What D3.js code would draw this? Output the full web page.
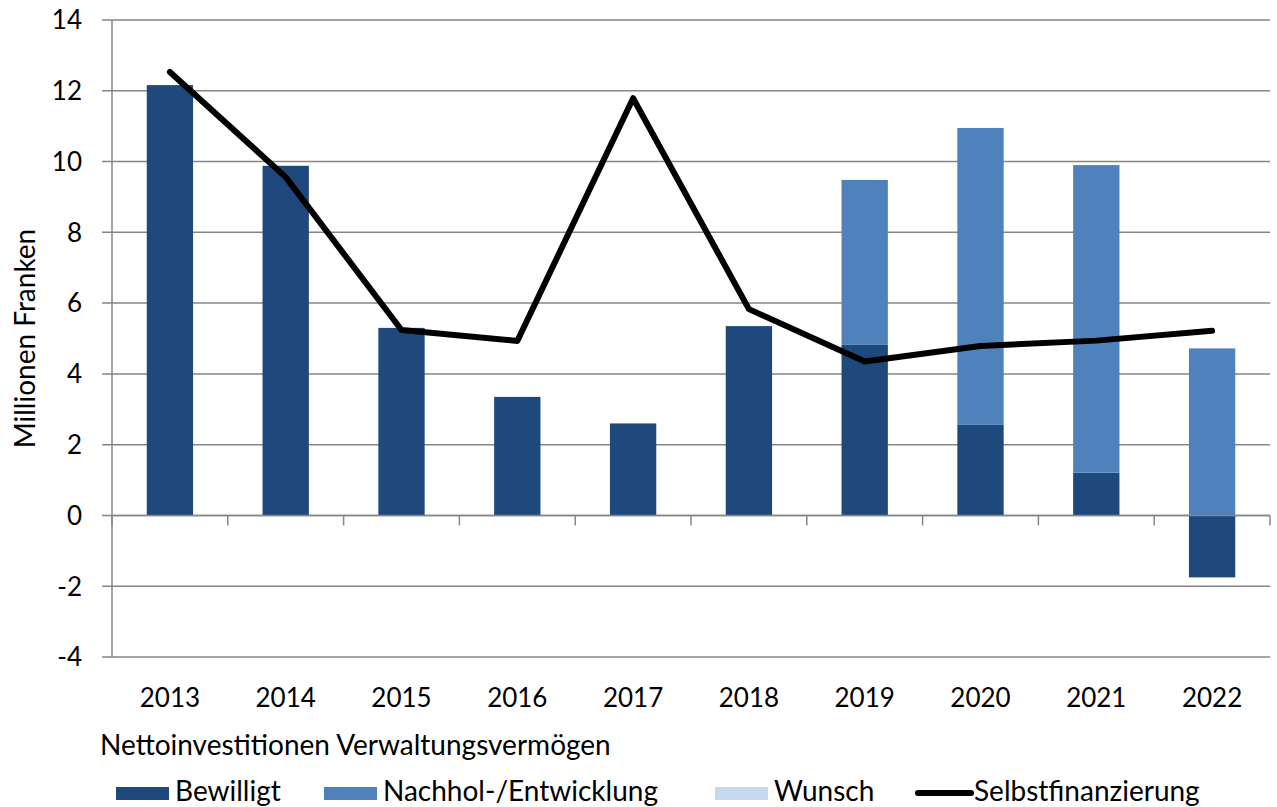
<!DOCTYPE html>
<html>
<head>
<meta charset="utf-8">
<script src="https://cdn.jsdelivr.net/npm/d3@7"></script>
<style>
  body { margin: 0; background: #fff; }
  text { font-family: Lato, "Open Sans", sans-serif; fill: #000; }
</style>
</head>
<body>
<script>
const years = ['2013', '2014', '2015', '2016', '2017', '2018', '2019', '2020', '2021', '2022'];
const bewilligt = [12.16, 9.88, 5.3, 3.35, 2.6, 5.35, 4.82, 2.56, 1.21, -1.75];
const nachhol = [0, 0, 0, 0, 0, 0, 4.66, 8.39, 8.69, 4.72];
const wunsch = [0, 0, 0, 0, 0, 0, 0, 0, 0, 0];
const selbst = [12.53, 9.56, 5.24, 4.93, 11.79, 5.83, 4.35, 4.79, 4.94, 5.22];
const yTicks = [-4, -2, 0, 2, 4, 6, 8, 10, 12, 14];

const width = 1277;
const height = 807;
const margin = { top: 20, right: 7, bottom: 150, left: 112 };

const colors = { bewilligt: '#1f497d', nachhol: '#4f81bd', wunsch: '#c6d9f1', line: '#000', grid: '#868686' };

const svg = d3.select('body')
  .append('svg')
  .attr('width', width)
  .attr('height', height);

const x = d3.scaleBand()
  .domain(years)
  .range([margin.left, width - margin.right])
  .paddingInner(0.6)
  .paddingOuter(0.3);

const y = d3.scaleLinear()
  .domain([-4, 14])
  .range([657, margin.top]);

// gridlines
svg.append('g')
  .selectAll('line')
  .data(yTicks)
  .join('line')
  .attr('x1', margin.left - 10)
  .attr('x2', width - margin.right)
  .attr('y1', d => y(d))
  .attr('y2', d => y(d))
  .attr('stroke', colors.grid)
  .attr('stroke-width', 1.5);

// y labels
svg.append('g')
  .selectAll('text')
  .data(yTicks)
  .join('text')
  .attr('x', 82)
  .attr('y', d => y(d))
  .attr('dy', '0.36em')
  .attr('text-anchor', 'end')
  .style('font-size', '26px')
  .text(d => d);

// bars
const step = x.step();
const stacks = years.map((yr, i) => {
  const b = bewilligt[i];
  const n = nachhol[i];
  const w = wunsch[i];
  const base = Math.max(b, 0);
  return [
    { yr, y0: 0, y1: b, c: colors.bewilligt },
    { yr, y0: base, y1: base + n, c: colors.nachhol },
    { yr, y0: base + n, y1: base + n + w, c: colors.wunsch }
  ].filter(s => s.y1 !== s.y0);
});

svg.append('g')
  .selectAll('rect')
  .data(stacks.flat())
  .join('rect')
  .attr('x', d => x(d.yr))
  .attr('width', x.bandwidth())
  .attr('y', d => y(Math.max(d.y0, d.y1)))
  .attr('height', d => Math.abs(y(d.y0) - y(d.y1)))
  .attr('fill', d => d.c);

// y axis line
svg.append('line')
  .attr('x1', margin.left).attr('x2', margin.left)
  .attr('y1', y(14)).attr('y2', y(-4))
  .attr('stroke', colors.grid)
  .attr('stroke-width', 1.5);

// zero line + category ticks
svg.append('line')
  .attr('x1', margin.left).attr('x2', width - margin.right)
  .attr('y1', y(0)).attr('y2', y(0))
  .attr('stroke', colors.grid)
  .attr('stroke-width', 1.5);

svg.append('g')
  .selectAll('line')
  .data(d3.range(years.length + 1))
  .join('line')
  .attr('x1', i => margin.left + i * step)
  .attr('x2', i => margin.left + i * step)
  .attr('y1', y(0))
  .attr('y2', y(0) + 10)
  .attr('stroke', colors.grid)
  .attr('stroke-width', 1.5);

// x labels
svg.append('g')
  .selectAll('text')
  .data(years)
  .join('text')
  .attr('x', d => x(d) + x.bandwidth() / 2)
  .attr('y', 707)
  .attr('text-anchor', 'middle')
  .style('font-size', '26px')
  .text(d => d);

// line
const line = d3.line()
  .x((d, i) => x(years[i]) + x.bandwidth() / 2)
  .y(d => y(d));

svg.append('path')
  .datum(selbst)
  .attr('d', line)
  .attr('fill', 'none')
  .attr('stroke', colors.line)
  .attr('stroke-width', 6)
  .attr('stroke-linecap', 'round')
  .attr('stroke-linejoin', 'round');

// y title
svg.append('text')
  .attr('transform', `translate(35,${y(5)}) rotate(-90)`)
  .attr('text-anchor', 'middle')
  .style('font-size', '28px')
  .text('Millionen Franken');

// x title
svg.append('text')
  .attr('x', 100)
  .attr('y', 755)
  .style('font-size', '28px')
  .text('Nettoinvestitionen Verwaltungsvermögen');

// legend
const legendItems = [
  { label: 'Bewilligt', c: colors.bewilligt, x: 116, type: 'rect' },
  { label: 'Nachhol-/Entwicklung', c: colors.nachhol, x: 324, type: 'rect' },
  { label: 'Wunsch', c: colors.wunsch, x: 715, type: 'rect' },
  { label: 'Selbstfinanzierung', c: colors.line, x: 915, type: 'line' }
];

const legend = svg.append('g');
legendItems.forEach(d => {
  const g = legend.append('g').attr('transform', `translate(${d.x},0)`);
  if (d.type === 'rect') {
    g.append('rect').attr('x', 0).attr('y', 787).attr('width', 53).attr('height', 13).attr('fill', d.c);
  } else {
    g.append('line').attr('x1', 3).attr('x2', 56).attr('y1', 793).attr('y2', 793)
      .attr('stroke', d.c).attr('stroke-width', 6).attr('stroke-linecap', 'round');
  }
  g.append('text')
    .attr('x', 59)
    .attr('y', 801)
    .style('font-size', '28px')
    .text(d.label);
});
</script>
</body>
</html>
